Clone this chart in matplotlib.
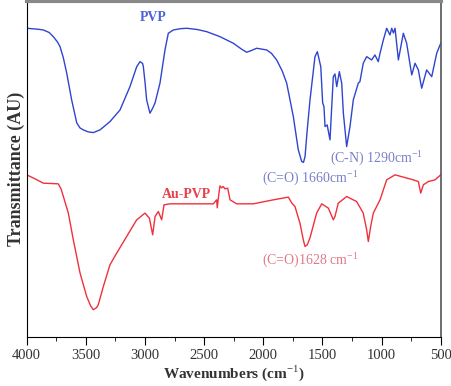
import matplotlib.pyplot as plt
from matplotlib.ticker import MultipleLocator

plt.rcParams["mathtext.fontset"] = "custom"
plt.rcParams["mathtext.rm"] = "Liberation Serif"
plt.rcParams["mathtext.bf"] = "Liberation Serif:bold"

# PVP spectrum (wavenumber cm-1, transmittance in arbitrary units)
pvp_wn = [4000, 3900, 3860, 3810, 3775, 3740, 3718, 3690, 3662, 3620, 3590, 3577,
          3550, 3521, 3480, 3437, 3380, 3296, 3211, 3127, 3070, 3042, 3020, 3014,
          3000, 2986, 2958, 2935, 2915, 2873, 2831, 2803, 2760, 2700, 2647, 2560,
          2478, 2366, 2253, 2180, 2140, 2100, 2056, 1971, 1930, 1887, 1840, 1802,
          1746, 1704, 1675, 1660, 1647, 1630, 1605, 1563, 1543, 1514, 1498, 1487,
          1478, 1460, 1436, 1408, 1394, 1379, 1357, 1337, 1323, 1295, 1267, 1239,
          1197, 1183, 1155, 1126, 1084, 1056, 1028, 1013, 985, 957, 929, 914, 900,
          886, 858, 816, 788, 745, 717, 689, 661, 619, 576, 534, 500]
pvp_t = [308.7, 307.7, 307.0, 304.5, 300.3, 295.0, 290.3, 279.0, 264.0, 237.0,
         221.0, 214.0, 209.0, 207.0, 205.0, 204.3, 207.0, 215.3, 227.0, 250.3,
         270.3, 275.3, 273.5, 270.3, 255.0, 237.0, 223.7, 228.7, 234.0, 254.0,
         287.0, 303.7, 307.0, 308.3, 308.7, 307.5, 305.3, 300.3, 293.7, 287.5,
         284.7, 286.5, 288.7, 287.0, 283.5, 277.0, 266.0, 253.7, 220.3, 187.0,
         175.3, 174.5, 180.3, 205.0, 237.0, 280.3, 285.3, 270.3, 234.0, 230.3,
         210.3, 212.0, 197.0, 260.3, 263.0, 250.3, 265.3, 253.7, 223.7, 190.3,
         210.3, 237.0, 253.7, 255.3, 273.7, 280.3, 277.0, 282.0, 275.3, 283.7,
         297.0, 308.7, 302.0, 308.7, 304.0, 308.7, 277.0, 303.7, 293.7, 262.0,
         273.7, 267.0, 248.7, 267.0, 260.3, 283.7, 293.7]

# Au-PVP spectrum
au_wn = [4000, 3930, 3860, 3733, 3710, 3690, 3648, 3606, 3549, 3493, 3460, 3437,
         3410, 3395, 3352, 3296, 3239, 3155, 3070, 3000, 2963, 2935, 2915, 2887,
         2859, 2839, 2789, 2647, 2422, 2394, 2389, 2380, 2366, 2352, 2338, 2324,
         2301, 2281, 2225, 2084, 1915, 1788, 1760, 1732, 1690, 1660, 1647, 1628,
         1605, 1549, 1506, 1450, 1408, 1394, 1366, 1295, 1211, 1155, 1126, 1112,
         1092, 1070, 1013, 957, 886, 732, 689, 669, 647, 605, 548, 500]
au_t = [162.0, 158.0, 153.7, 153.0, 148.0, 140.3, 123.7, 97.0, 63.7, 40.3, 31.0,
        27.0, 29.0, 32.0, 50.3, 72.0, 83.7, 100.3, 117.0, 123.7, 118.7, 102.0,
        120.3, 125.3, 117.0, 132.0, 133.0, 133.0, 133.0, 137.0, 129.0, 138.7,
        151.0, 149.0, 150.3, 148.0, 148.7, 137.0, 133.0, 133.0, 137.0, 139.7,
        134.0, 130.3, 113.7, 96.0, 90.3, 92.0, 99.0, 123.7, 133.0, 128.7, 117.0,
        120.3, 133.7, 140.3, 135.3, 123.7, 107.0, 95.3, 110.3, 123.7, 137.0,
        157.0, 162.0, 157.0, 155.3, 143.7, 152.0, 155.3, 157.0, 162.0]

serif = "Liberation Serif"

fig = plt.figure(figsize=(4.51, 3.86), dpi=100)
ax = fig.add_axes([0.0592, 0.1277, 0.918, 0.8697])

ax.plot(pvp_wn, pvp_t, color="#2f45d0", lw=1.0)
ax.plot(au_wn, au_t, color="#f0303c", lw=1.0)

ax.set_xlim(4000, 500)
ax.set_ylim(0, 336)
ax.xaxis.set_major_locator(MultipleLocator(500))
ax.xaxis.set_minor_locator(MultipleLocator(250))
ax.set_yticks([])
ax.tick_params(axis="x", which="major", length=6, direction="out", pad=3,
               labelsize=10.5, labelcolor="#333333")
ax.tick_params(axis="x", which="minor", length=3, direction="out")
for lbl in ax.get_xticklabels():
    lbl.set_family(serif)

ax.spines["top"].set_color("#888888")
ax.spines["top"].set_linewidth(3)
ax.spines["right"].set_color("#555555")
ax.spines["right"].set_linewidth(1.2)

ax.set_xlabel("Wavenumbers (cm$^{-1}$)", family=serif, fontweight="bold",
              fontsize=11, color="#333333", labelpad=1)
ax.set_ylabel("Transmittance (AU)", family=serif, fontweight="bold",
              fontsize=13, color="#333333", labelpad=1)

ax.text(2930, 319, "PVP", family=serif, fontweight="bold", fontsize=10,
        color="#4a64d4", ha="center", va="center")
ax.text(1040, 179, "(C-N) 1290cm$^{-1}$", family=serif, fontsize=10,
        color="#7a80c8", ha="center", va="center")
ax.text(1600, 159, "(C=O) 1660cm$^{-1}$", family=serif, fontsize=10,
        color="#7a80c8", ha="center", va="center")
ax.text(2650, 142, "Au-PVP", family=serif, fontweight="bold", fontsize=10,
        color="#e8404a", ha="center", va="center")
ax.text(1600, 77, "(C=O)1628 cm$^{-1}$", family=serif, fontsize=10,
        color="#e07a88", ha="center", va="center")

fig.savefig("out.png", dpi=100)
